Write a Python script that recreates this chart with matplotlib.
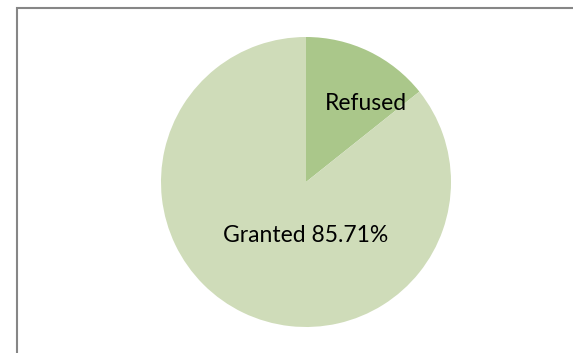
import matplotlib
matplotlib.use("Agg")
from matplotlib import pyplot as plt
from matplotlib.patches import Rectangle

# slice data, drawn clockwise from 12 o'clock
categorias = ["Refused", "Granted"]
valores = [14.29, 85.71]
cores = ["#aac78a", "#cfdcb9"]
mostra_pct = [False, True]

W, H = 573, 353
fig = plt.figure(figsize=(W / 100, H / 100), dpi=100)
fig.patch.set_facecolor("white")

# moldura cinzenta do gráfico
fig.patches.append(Rectangle((17 / W, -0.5), 1.2, 1.5 - 8 / H, transform=fig.transFigure,
                             fill=False, edgecolor="#868686", linewidth=1.5))

ax = fig.add_axes([161 / W, 26 / H, 290 / W, 290 / H])
wedges, _ = ax.pie(valores, colors=cores, startangle=90, counterclock=False,
                   radius=1, wedgeprops=dict(linewidth=0))
ax.set_xlim(-1, 1)
ax.set_ylim(-1, 1)
ax.set_aspect("equal")
ax.axis("off")

# posições das etiquetas (x, y) dentro do círculo
pos_etiquetas = [(0.41, 0.54), (0.0, -0.37)]
for nome, v, pct, (x, y) in zip(categorias, valores, mostra_pct, pos_etiquetas):
    texto = f"{nome} {v:.2f}%" if pct else nome
    ax.text(x, y, texto, ha="center", va="center", fontsize=16.5,
            family=["Lato", "DejaVu Sans"], color="black")

fig.savefig("out.png", dpi=100)
